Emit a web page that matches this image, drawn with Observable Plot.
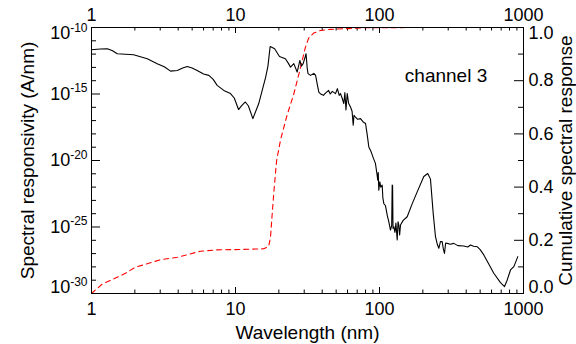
<!DOCTYPE html>
<html><head><meta charset="utf-8">
<script src="https://cdn.jsdelivr.net/npm/d3@7"></script>
<script src="https://cdn.jsdelivr.net/npm/@observablehq/plot@0.6"></script>
<style>
body{margin:0;background:#fff}
svg{font-family:"Liberation Sans",Arial,Helvetica,sans-serif}
</style>
</head><body><div id="chart"></div>
<script>
// Spectral responsivity (A/nm), black line, left axis
const wavelength = [1.0,1.15,1.29,1.4,1.51,1.96,2.44,2.86,3.2,3.54,3.94,4.3,4.62,5.0,5.42,6.0,6.53,7.0,7.46,8.29,9.23,9.8,10.5,11.0,11.7,12.3,13.2,14.5,16.2,16.8,17.4,18.0,18.7,20.2,22.2,23.3,24.1,25.4,26.8,28.0,28.7,29.5,30.5,30.9,31.5,31.9,33.2,35.0,36.0,37.0,37.9,39.0,40.8,42.0,44.3,45.5,47.0,49.5,51.0,52.5,53.6,55.0,56.5,57.5,58.5,59.7,61.0,62.9,64.5,65.7,66.5,68.1,70.5,73.8,77.0,80.0,82.0,84.3,87.5,90.5,93.7,96.0,97.2,98.0,98.9,100.5,102.0,104.4,105.5,107.1,110.0,113.1,116.0,119.2,121.5,122.5,123.3,124.1,125.6,128.0,130.0,132.7,134.5,136.2,138.0,139.9,146.0,155.7,168.0,182.7,203.1,216.3,225.9,236.0,244.8,252.0,258.2,265.0,272.4,277.0,282.6,288.0,295.1,310.0,328.0,350.0,384.7,410.0,428.5,450.0,476.6,500.0,530.1,575.0,622.0,692.0,738.0,770.0,812.0,857.0,913.0];
const responsivity = [2.14e-12,2.40e-12,2.51e-12,1.78e-12,1.07e-12,8.91e-13,4.47e-13,1.91e-13,1.12e-13,5.25e-14,5.89e-14,8.91e-14,1.17e-13,8.91e-14,5.89e-14,3.16e-14,2.51e-14,1.26e-14,4.47e-15,1.86e-15,1.07e-15,5.01e-16,6.76e-17,1.26e-16,2.51e-16,1.26e-16,1.41e-17,1.91e-16,1.86e-14,1.26e-13,3.72e-12,3.16e-12,2.51e-12,6.61e-13,4.47e-13,2.0e-13,1.05e-13,1.91e-13,4.47e-14,3.31e-13,1.26e-13,1.91e-13,6.31e-13,1.07e-12,7.94e-14,3.39e-14,2.51e-14,3.55e-14,2.51e-14,5.01e-15,1.41e-15,1.0e-15,7.94e-16,1.12e-15,1.86e-15,1.0e-15,1.58e-15,1.07e-15,2.51e-15,7.94e-16,1.07e-15,5.01e-16,1.91e-16,1.26e-15,6.31e-17,1.07e-15,2.0e-16,1.05e-16,5.01e-17,4.47e-18,2.51e-17,1.86e-17,1.26e-17,1.41e-17,7.94e-18,6.03e-18,1.0e-18,1.05e-19,4.47e-20,1.58e-20,6.03e-21,1.0e-21,3.31e-22,1.26e-21,5.89e-23,2.51e-22,1.0e-22,1.41e-22,1.58e-23,5.89e-24,3.98e-24,7.94e-25,2.51e-25,5.89e-26,1.26e-25,1.41e-22,1.26e-22,7.94e-26,1.05e-25,3.98e-26,2.0e-25,1.05e-26,2.51e-25,1.41e-25,2.51e-26,1.41e-25,3.16e-25,5.89e-25,5.01e-24,4.37e-23,6.31e-22,1.05e-21,3.98e-22,1.05e-24,1.86e-26,5.01e-27,2.51e-27,7.94e-27,7.94e-27,2.51e-27,1.05e-27,6.31e-27,5.89e-27,5.01e-27,5.89e-27,3.98e-27,3.72e-27,3.16e-27,4.47e-27,3.55e-27,3.31e-27,2.0e-27,7.94e-28,1.58e-28,3.31e-29,6.61e-30,3.31e-30,1.0e-29,5.89e-29,1.05e-28,5.89e-28];

// Cumulative spectral response, red dashed line, right axis
const cumWavelength = [1.0,1.19,1.43,1.72,2.02,2.44,3.01,3.94,5.71,7.46,9.75,15.7,17.0,17.5,18.45,19.3,20.6,22.8,25.4,28.0,30.6,32.2,34.9,38.9,45.6,77.3,192,1000];
const cumulative = [0.0,0.036,0.055,0.076,0.099,0.112,0.127,0.136,0.159,0.164,0.165,0.168,0.177,0.212,0.38,0.50,0.58,0.67,0.75,0.84,0.926,0.96,0.979,0.989,0.993,0.999,1.0,1.0];

// Tick labels
const xTicks = [1, 10, 100, 1000];
const yTickExponents = [-10, -15, -20, -25, -30];
const rightTicks = [0.0, 0.2, 0.4, 0.6, 0.8, 1.0];
const annotation = {text: "channel 3", x: 150, y: 7.9e-15};

const W = 576, H = 344;
const mt = 27, mb = 51, ml = 91, mr = 53;
const ph = H - mt - mb, pw = W - ml - mr;
const yMin = -30, yMax = -10;

// map right-axis fraction onto the left log scale
const toLeft = c => Math.pow(10, yMin + (yMax - yMin) * c);

const respData = wavelength.map((w, i) => ({w, r: responsivity[i]}));
const cumData = cumWavelength.map((w, i) => ({w, r: toLeft(cumulative[i])}));

const xMinor = [];
for (const d of [1, 10, 100]) for (let k = 2; k <= 9; k++) xMinor.push(k * d);
const yMajor = yTickExponents.map(e => Math.pow(10, e));
const yMinor = [];
for (let e = yMin; e <= yMax; e++) if (!yTickExponents.includes(e)) yMinor.push(Math.pow(10, e));
const rMajor = rightTicks.map(toLeft);
const rMinor = [0.1, 0.3, 0.5, 0.7, 0.9].map(toLeft);

const chart = Plot.plot({
  width: W, height: H,
  marginTop: mt, marginBottom: mb, marginLeft: ml, marginRight: mr,
  x: {type: "log", domain: [1, 1000]},
  y: {type: "log", domain: [Math.pow(10, yMin), Math.pow(10, yMax)]},
  style: {fontFamily: '"Liberation Sans", Arial, sans-serif', fontSize: "18px", color: "black", background: "white"},
  marks: [
    // inward ticks
    Plot.ruleX(xTicks, {insetTop: ph - 6, stroke: "black"}),
    Plot.ruleX(xTicks, {insetBottom: ph - 6, stroke: "black"}),
    Plot.ruleX(xMinor, {insetTop: ph - 3.5, stroke: "black"}),
    Plot.ruleX(xMinor, {insetBottom: ph - 3.5, stroke: "black"}),
    Plot.ruleY(yMajor, {insetRight: pw - 9, stroke: "black"}),
    Plot.ruleY(yMinor, {insetRight: pw - 5, stroke: "black"}),
    Plot.ruleY(rMajor, {insetLeft: pw - 9, stroke: "black"}),
    Plot.ruleY(rMinor, {insetLeft: pw - 5, stroke: "black"}),
    // axes (labels)
    Plot.axisX({anchor: "bottom", ticks: xTicks, tickSize: 0, tickPadding: 9, tickFormat: d => String(d), label: null, fontSize: 18}),
    Plot.axisX({anchor: "top", ticks: xTicks, tickSize: 0, tickPadding: 7, tickFormat: d => String(d), label: null, fontSize: 18}),
    Plot.axisY({anchor: "left", ticks: yMajor, tickSize: 0, tickPadding: 4, tickFormat: d => "10^" + Math.round(Math.log10(d)), label: null, fontSize: 18}),
    Plot.axisY({anchor: "right", ticks: rMajor, tickSize: 0, tickPadding: 5, tickFormat: d => (Math.round((Math.log10(d) - yMin) / (yMax - yMin) * 10) / 10).toFixed(1), label: null, fontSize: 18}),
    // data
    Plot.line(cumData, {x: "w", y: "r", stroke: "#ff0000", strokeWidth: 1.1, strokeDasharray: "5,4"}),
    Plot.line(respData, {x: "w", y: "r", stroke: "black", strokeWidth: 1.1}),
    Plot.frame({stroke: "black", strokeWidth: 1}),
    // titles
    Plot.text(["Wavelength (nm)"], {text: d => d, frameAnchor: "bottom", dy: 45, lineAnchor: "bottom", textAnchor: "middle", fontSize: 19}),
    Plot.text(["Spectral responsivity (A/nm)"], {text: d => d, frameAnchor: "left", dx: -58, rotate: -90, lineAnchor: "bottom", textAnchor: "middle", fontSize: 19}),
    Plot.text(["Cumulative spectral response"], {text: d => d, frameAnchor: "right", dx: 48, rotate: -90, lineAnchor: "bottom", textAnchor: "middle", fontSize: 19}),
    Plot.text([annotation], {x: "x", y: "y", text: "text", textAnchor: "start", lineAnchor: "bottom", fontSize: 19})
  ]
});
document.getElementById("chart").appendChild(chart);

// superscript exponents and inward shift of end labels (as in the original)
const ns = "http://www.w3.org/2000/svg";
chart.querySelectorAll("text").forEach(t => {
  const s = t.textContent;
  if (s.startsWith("10^")) {
    const exp = s.slice(3);
    t.textContent = "";
    const a = document.createElementNS(ns, "tspan"); a.textContent = "10";
    const b = document.createElementNS(ns, "tspan"); b.textContent = exp;
    b.setAttribute("font-size", "12"); b.setAttribute("dy", "-7.5");
    t.appendChild(a); t.appendChild(b);
  }
  if (s === "10^-10" || s === "1.0") t.setAttribute("transform", (t.getAttribute("transform") || "") + " translate(0,6)");
  if (s === "10^-30" || s === "0.0") t.setAttribute("transform", (t.getAttribute("transform") || "") + " translate(0,-6)");
});
</script>
</body></html>
